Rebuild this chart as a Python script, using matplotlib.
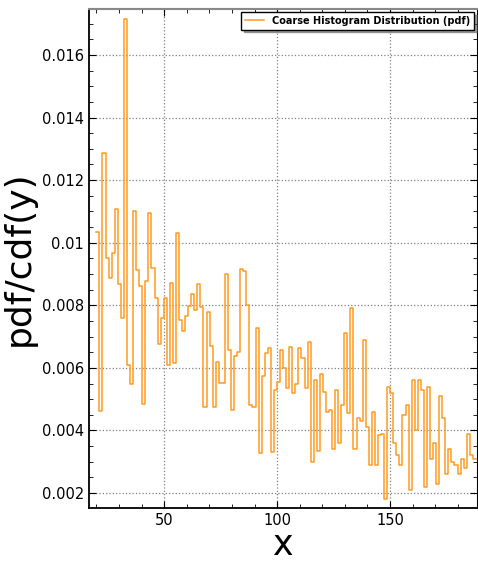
import numpy as np
import matplotlib
matplotlib.use("Agg")
import matplotlib.pyplot as plt
from matplotlib.ticker import MultipleLocator, FuncFormatter

# bin heights, left to right
pdf_values = [
    0.01033, 0.00463, 0.01288, 0.00952, 0.00888, 0.00966, 0.01107, 0.00867, 0.00760, 0.01715,
    0.00609, 0.00550, 0.01102, 0.00912, 0.00863, 0.00483, 0.00878, 0.01094, 0.00920, 0.00824,
    0.00675, 0.00758, 0.00822, 0.00610, 0.00870, 0.00615, 0.01030, 0.00753, 0.00719, 0.00766,
    0.00799, 0.00835, 0.00785, 0.00867, 0.00793, 0.00476, 0.00780, 0.00670, 0.00476, 0.00620,
    0.00552, 0.00552, 0.00900, 0.00657, 0.00465, 0.00638, 0.00650, 0.00915, 0.00910, 0.00800,
    0.00481, 0.00476, 0.00728, 0.00327, 0.00575, 0.00646, 0.00662, 0.00332, 0.00529, 0.00556,
    0.00657, 0.00600, 0.00537, 0.00668, 0.00521, 0.00550, 0.00662, 0.00630, 0.00537, 0.00684,
    0.00300, 0.00560, 0.00335, 0.00580, 0.00522, 0.00458, 0.00465, 0.00340, 0.00530, 0.00360,
    0.00480, 0.00710, 0.00455, 0.00790, 0.00340, 0.00440, 0.00430, 0.00690, 0.00410, 0.00290,
    0.00460, 0.00290, 0.00385, 0.00390, 0.00180,
    0.00540, 0.00520, 0.00360, 0.00320, 0.00290, 0.00450, 0.00480, 0.00210, 0.00560, 0.00400,
    0.00560, 0.00530, 0.00220, 0.00540, 0.00310, 0.00360, 0.00230, 0.00510, 0.00440, 0.00260,
    0.00340, 0.00300, 0.00290, 0.00260, 0.00310, 0.00280, 0.00390, 0.00320, 0.00310,
]
x_min, x_max = 20, 188
edges = np.linspace(x_min, x_max, len(pdf_values) + 1)
step_y = pdf_values + [pdf_values[-1]]

fig = plt.figure(figsize=(4.78, 5.62), dpi=100)
ax = fig.add_axes([0.186, 0.096, 0.812, 0.888])

ax.plot(edges, step_y, drawstyle="steps-post", color="#ff9a1f", linewidth=1.1,
        label="Coarse Histogram Distribution (pdf)")

ax.set_xlim(16.7, 188.5)
ax.set_ylim(0.00152, 0.01747)

ax.xaxis.set_major_locator(MultipleLocator(50))
ax.xaxis.set_minor_locator(MultipleLocator(10))
ax.yaxis.set_major_locator(MultipleLocator(0.002))
ax.yaxis.set_minor_locator(MultipleLocator(0.0005))
ax.yaxis.set_major_formatter(FuncFormatter(lambda v, p: "%g" % round(v, 6)))

ax.tick_params(which="both", direction="in", top=True, right=True, labelsize=10.5)
ax.tick_params(which="major", length=5)
ax.tick_params(which="minor", length=3)
ax.grid(True, which="major", linestyle=":", color="gray", linewidth=0.9)

for s in ["left", "bottom"]:
    ax.spines[s].set_linewidth(1.3)
ax.spines["top"].set_color("#888888")
ax.spines["top"].set_linewidth(1.5)

ax.set_xlabel("x", fontsize=25, labelpad=0)
ax.set_ylabel("pdf/cdf(y)", fontsize=26)

leg = ax.legend(loc="upper right", prop={"weight": "bold", "size": 7},
                fancybox=False, shadow=True, framealpha=1,
                borderaxespad=0.3, handlelength=2.0)
leg.get_frame().set_edgecolor("black")
leg.get_frame().set_linewidth(1.0)

fig.savefig("out.png", dpi=100)
